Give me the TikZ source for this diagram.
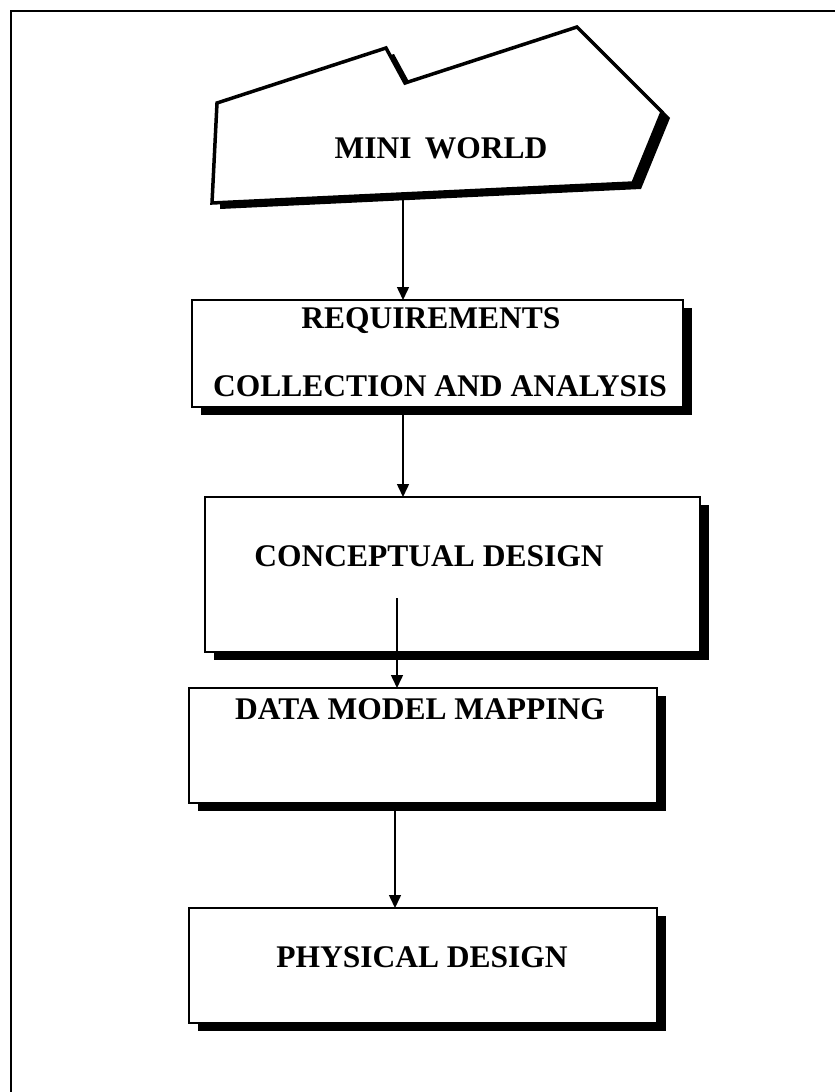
\documentclass[tikz,border=0pt]{standalone}
\usepackage{fontspec}
\setmainfont{Liberation Serif}
\usetikzlibrary{arrows.meta}
\begin{document}
\begin{tikzpicture}[x=1pt,y=-1pt,
  frameline/.style={line width=2pt},
  stagebox/.style={draw=none,rectangle,inner sep=0pt,anchor=north west},
  label/.style={font=\fontsize{31.5}{36}\selectfont\bfseries,inner sep=0pt},
  flow/.style={line width=1.5pt,-{Triangle[length=13pt,width=12pt]}},
  shade/.style={fill=black}]
\useasboundingbox (0,0) rectangle (835,1092);
% page frame (left and top edges)
\draw[frameline] (11,1092) -- (11,11) -- (835,11);

% mini world outline with drop shadow
\fill[shade,shift={(8,6)}] (217,103) -- (386,48) -- (405,83) -- (577,27) -- (662,112) -- (633,183) -- (212,203) -- cycle;
\draw[line width=3.5pt,fill=white] (217,103) -- (386,48) -- (405,83) -- (577,27) -- (662,112) -- (633,183) -- (212,203) -- cycle;
\node[label] (mw) at (441,148) {MINI\, WORLD};
\coordinate (mwb) at (403,195);

% stage boxes (placed by their top-left corners)
\node[stagebox,minimum width=491pt,minimum height=107pt] (req) at (192,300) {};
\node[stagebox,minimum width=495pt,minimum height=155pt] (con) at (205,497) {};
\node[stagebox,minimum width=468pt,minimum height=115pt] (dmm) at (189,688) {};
\node[stagebox,minimum width=468pt,minimum height=115pt] (phy) at (189,908) {};

% each box: black drop shadow, then white face with a black rim
\foreach \b in {req,con,dmm,phy}{
  \fill[shade] ([shift={(9,8)}]\b.north west) rectangle ([shift={(9,8)}]\b.south east);
  \draw[line width=2pt,fill=white] (\b.north west) rectangle (\b.south east);
}

% stage labels
\node[label] (reqa) at (431,321) {REQUIREMENTS};
\node[label] (reqb) at (440,386) {COLLECTION AND ANALYSIS};
\node[label] (cont) at (429,556) {CONCEPTUAL DESIGN};
\node[label] (dmmt) at (420,709) {DATA MODEL MAPPING};
\node[label] (phyt) at (422,957) {PHYSICAL DESIGN};

% connectors
\coordinate (c1) at (403,0);
\coordinate (c3) at (397,598);
\coordinate (c4) at (395,0);
\draw[flow] (mwb) -- (req.north -| mwb);
\draw[flow] (req.south -| c1) -- (con.north -| c1);
\draw[flow] (c3) -- (dmm.north -| c3);
\draw[flow] (dmm.south -| c4) -- (phy.north -| c4);
\end{tikzpicture}
\end{document}
